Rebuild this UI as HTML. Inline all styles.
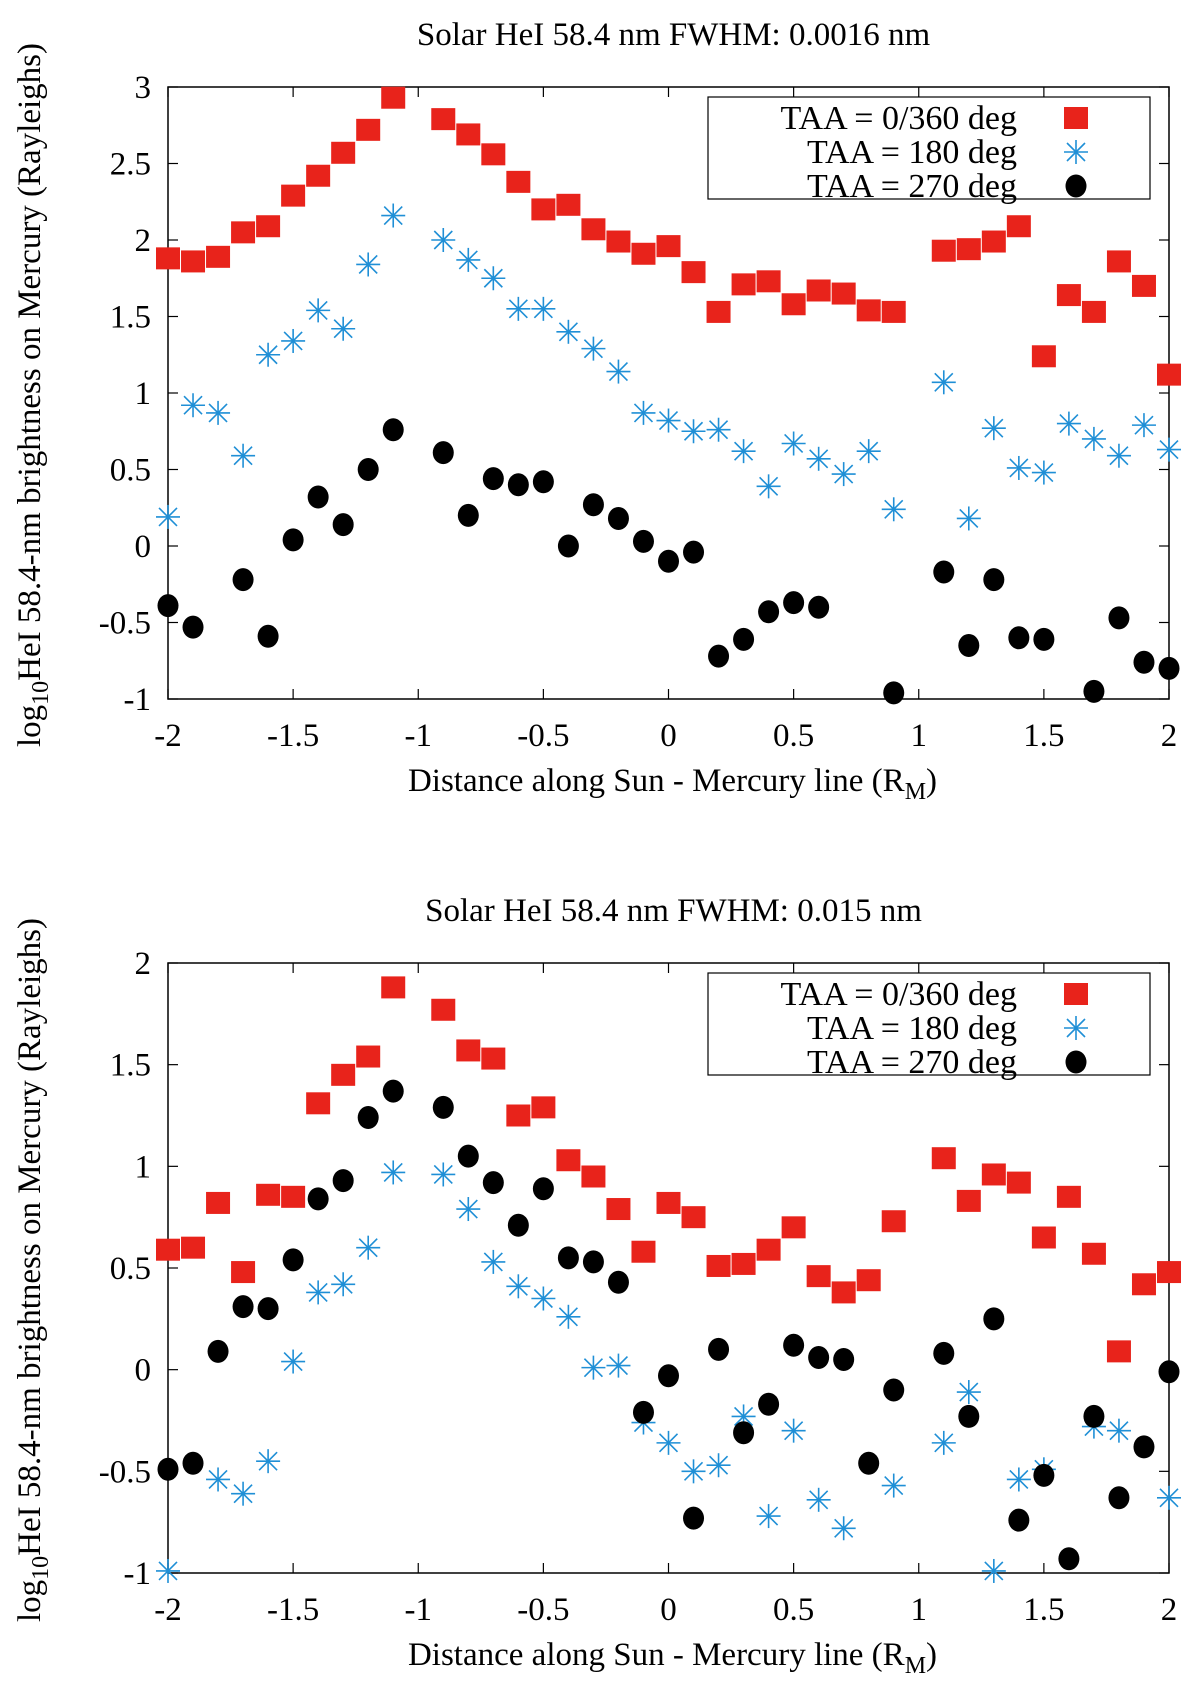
<!DOCTYPE html>
<html><head><meta charset="utf-8"><style>
html,body{margin:0;padding:0;background:#fff}
svg{display:block;font-family:"Liberation Serif",serif}
</style></head><body>
<svg id="chart" width="1200" height="1689" viewBox="0 0 1200 1689" xmlns="http://www.w3.org/2000/svg"></svg>
<script>
const xCats=[-2,-1.9,-1.8,-1.7,-1.6,-1.5,-1.4,-1.3,-1.2,-1.1,-1.0,-0.9,-0.8,-0.7,-0.6,-0.5,-0.4,-0.3,-0.2,-0.1,0,0.1,0.2,0.3,0.4,0.5,0.6,0.7,0.8,0.9,1.0,1.1,1.2,1.3,1.4,1.5,1.6,1.7,1.8,1.9,2.0];
const topRed=[1.88,1.86,1.89,2.05,2.09,2.29,2.42,2.57,2.72,2.93,null,2.79,2.69,2.56,2.38,2.20,2.23,2.07,1.99,1.91,1.96,1.79,1.53,1.71,1.73,1.58,1.67,1.65,1.54,1.53,null,1.93,1.94,1.99,2.09,1.24,1.64,1.53,1.86,1.70,1.12];
const topBlue=[0.19,0.92,0.87,0.59,1.25,1.34,1.54,1.42,1.84,2.16,null,2.00,1.87,1.75,1.55,1.55,1.40,1.29,1.14,0.87,0.82,0.75,0.76,0.62,0.39,0.67,0.57,0.47,0.62,0.24,null,1.07,0.18,0.77,0.51,0.48,0.80,0.70,0.59,0.79,0.63];
const topBlack=[-0.39,-0.53,null,-0.22,-0.59,0.04,0.32,0.14,0.50,0.76,null,0.61,0.20,0.44,0.40,0.42,0.00,0.27,0.18,0.03,-0.10,-0.04,-0.72,-0.61,-0.43,-0.37,-0.40,null,null,-0.96,null,-0.17,-0.65,-0.22,-0.60,-0.61,null,-0.95,-0.47,-0.76,-0.80];
const botRed=[0.59,0.60,0.82,0.48,0.86,0.85,1.31,1.45,1.54,1.88,null,1.77,1.57,1.53,1.25,1.29,1.03,0.95,0.79,0.58,0.82,0.75,0.51,0.52,0.59,0.70,0.46,0.38,0.44,0.73,null,1.04,0.83,0.96,0.92,0.65,0.85,0.57,0.09,0.42,0.48];
const botBlue=[-0.99,null,-0.54,-0.61,-0.45,0.04,0.38,0.42,0.60,0.97,null,0.96,0.79,0.53,0.41,0.35,0.26,0.01,0.02,-0.26,-0.36,-0.50,-0.47,-0.23,-0.72,-0.30,-0.64,-0.78,null,-0.57,null,-0.36,-0.11,-0.99,-0.54,-0.49,null,-0.28,-0.30,null,-0.63];
const botBlack=[-0.49,-0.46,0.09,0.31,0.30,0.54,0.84,0.93,1.24,1.37,null,1.29,1.05,0.92,0.71,0.89,0.55,0.53,0.43,-0.21,-0.03,-0.73,0.10,-0.31,-0.17,0.12,0.06,0.05,-0.46,-0.10,null,0.08,-0.23,0.25,-0.74,-0.52,-0.93,-0.23,-0.63,-0.38,-0.01];
const xTicks=[-2,-1.5,-1,-0.5,0,0.5,1,1.5,2];
const xTickLabels=["-2","-1.5","-1","-0.5","0","0.5","1","1.5","2"];
const topYTicks=[-1,-0.5,0,0.5,1,1.5,2,2.5,3];
const topYLabels=["-1","-0.5","0","0.5","1","1.5","2","2.5","3"];
const botYTicks=[-1,-0.5,0,0.5,1,1.5,2];
const botYLabels=["-1","-0.5","0","0.5","1","1.5","2"];
const legendLabels=["TAA = 0/360 deg","TAA = 180 deg","TAA = 270 deg"];

const NS="http://www.w3.org/2000/svg";
const svg=document.getElementById('chart');
function mk(tag,attrs,parent){const e=document.createElementNS(NS,tag);for(const k in attrs)e.setAttribute(k,attrs[k]);(parent||svg).appendChild(e);return e;}

function marker(g,type,cx,cy){
  let e;
  if(type==='sq'){e=mk('rect',{x:cx-12,y:cy-11,width:24,height:22,fill:'#e8231b'},g);}
  else if(type==='ci'){e=mk('ellipse',{cx:cx,cy:cy,rx:10.5,ry:11.5,fill:'#000'},g);}
  else{e=mk('g',{stroke:'#1f8fd6','stroke-width':1.6},g);
    mk('line',{x1:cx-12,y1:cy,x2:cx+12,y2:cy},e);
    mk('line',{x1:cx,y1:cy-12,x2:cx,y2:cy+12},e);
    mk('line',{x1:cx-9,y1:cy-9,x2:cx+9,y2:cy+9},e);
    mk('line',{x1:cx-9,y1:cy+9,x2:cx+9,y2:cy-9},e);}
  return e;
}

function panel(pfx,top,bottom,yMin,yMax,yTicks,yLabels,title,series){
  const L=168,R=1169;
  const g=mk('g',{});
  
  
  const xs=v=>L+(v+2)/4*(R-L);
  const ys=v=>bottom-(v-yMin)/(yMax-yMin)*(bottom-top);
  const t=mk('text',{x:(L+R)/2+5,y:top-42,'text-anchor':'middle','font-size':33},g);
  t.textContent=title;
  
  
  const frame=mk('rect',{x:L,y:top,width:R-L,height:bottom-top,fill:'none',stroke:'#000','stroke-width':1.5},g);
  
  
  xTicks.forEach((v,i)=>{
    const x=xs(v);
    mk('line',{x1:x,y1:bottom,x2:x,y2:bottom-10,stroke:'#000','stroke-width':1.2},g);
    mk('line',{x1:x,y1:top,x2:x,y2:top+10,stroke:'#000','stroke-width':1.2},g);
    const tl=mk('text',{x:x,y:bottom+47,'text-anchor':'middle','font-size':33},g);
    tl.textContent=xTickLabels[i];
    
    
  });
  yTicks.forEach((v,i)=>{
    const y=ys(v);
    mk('line',{x1:L,y1:y,x2:L+10,y2:y,stroke:'#000','stroke-width':1.2},g);
    mk('line',{x1:R,y1:y,x2:R-10,y2:y,stroke:'#000','stroke-width':1.2},g);
    const tl=mk('text',{x:L-17,y:y+11,'text-anchor':'end','font-size':33},g);
    tl.textContent=yLabels[i];
    
    
  });
  const xl=mk('text',{x:(L+R)/2+4,y:bottom+92,'text-anchor':'middle','font-size':33},g);
  xl.innerHTML='Distance along Sun - Mercury line (R<tspan font-size="24" dy="8">M</tspan><tspan dy="-8">)</tspan>';
  
  
  const cy=(top+bottom)/2+2;
  const yl=mk('text',{x:0,y:0,'text-anchor':'middle','font-size':33,transform:`translate(40,${cy}) rotate(-90)`},g);
  yl.innerHTML='log<tspan font-size="24" dy="8">10</tspan><tspan dy="-8">HeI 58.4-nm brightness on Mercury (Rayleighs)</tspan>';
  
  
  const names=['taa-0-360','taa-180','taa-270'];
  const types=['sq','st','ci'];
  series.forEach((arr,si)=>{
    const sg=mk('g',{},g);
    
    
    arr.forEach((v,i)=>{
      if(v===null)return;
      const m=marker(sg,types[si],xs(xCats[i]),ys(v));
      
      
    });
  });
  const lt=top+10;
  const lg=mk('g',{},g);
  
  
  mk('rect',{x:708,y:lt,width:442,height:102,fill:'#fff',stroke:'#000','stroke-width':1.2},lg);
  legendLabels.forEach((s,i)=>{
    const yy=lt+21+i*34;
    const tx=mk('text',{x:1017,y:yy+11,'text-anchor':'end','font-size':34},lg);
    tx.textContent=s;
    
    
    marker(lg,types[i],1076,yy);
  });
}
panel('top',87,699,-1,3,topYTicks,topYLabels,'Solar HeI 58.4 nm FWHM: 0.0016 nm',[topRed,topBlue,topBlack]);
panel('bottom',963,1573,-1,2,botYTicks,botYLabels,'Solar HeI 58.4 nm FWHM: 0.015 nm',[botRed,botBlue,botBlack]);
</script>
</body></html>
